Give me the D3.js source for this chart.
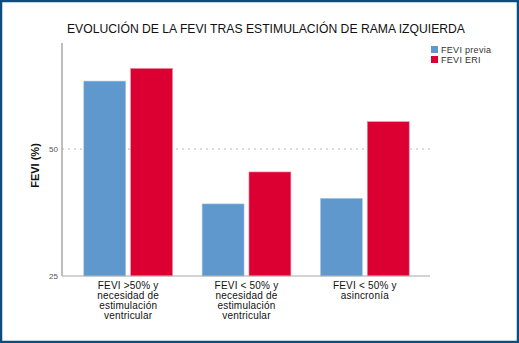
<!DOCTYPE html>
<html>
<head>
<meta charset="utf-8">
<script src="https://cdn.jsdelivr.net/npm/d3@7"></script>
<style>
  html, body { margin: 0; padding: 0; background: #fff; }
  svg { display: block; font-family: "Liberation Sans", Arial, sans-serif; }
</style>
</head>
<body>
<svg id="chart"></svg>
<script>
const categories = [
  ['FEVI >50% y', 'necesidad de', 'estimulación', 'ventricular'],
  ['FEVI  < 50% y', 'necesidad de', 'estimulación', 'ventricular'],
  ['FEVI < 50% y', 'asincronía']
];
const seriesNames = ['FEVI previa', 'FEVI ERI'];
const fevi_previa = [63.4, 39.2, 40.3];
const fevi_eri = [65.9, 45.5, 55.4];
const yTicks = [25, 50];

const COLORS = ['#5e98cd', '#dc0032'];

const width = 519, height = 343;
const svg = d3.select('#chart').attr('width', width).attr('height', height);

// blue frame
svg.append('rect')
  .attr('x', 1).attr('y', 1)
  .attr('width', width - 2).attr('height', height - 2)
  .attr('fill', '#fff')
  .attr('stroke', '#0d4d7d')
  .attr('stroke-width', 2.5);

const plot = { left: 62, right: 430, top: 43, bottom: 276 };

const y = d3.scaleLinear().domain([25, 70.9]).range([plot.bottom, plot.top]);
const x0 = d3.scaleBand()
  .domain(d3.range(categories.length))
  .range([69, 424])
  .paddingInner(0.25)
  .paddingOuter(0.125);
const x1 = d3.scaleBand()
  .domain(seriesNames)
  .range([0, x0.bandwidth()])
  .paddingInner(0.105);

const rows = categories.map((c, i) => ({ i, values: [fevi_previa[i], fevi_eri[i]] }));

// dotted gridline at 50
svg.append('g').selectAll('line')
  .data(yTicks.filter(t => t !== 25))
  .enter().append('line')
  .attr('x1', plot.left).attr('x2', plot.right)
  .attr('y1', d => y(d)).attr('y2', d => y(d))
  .attr('stroke', '#b8b8b8')
  .attr('stroke-dasharray', '2,4');

// bars
const groups = svg.append('g').selectAll('g')
  .data(rows)
  .enter().append('g')
  .attr('transform', d => `translate(${x0(d.i)},0)`);

groups.selectAll('rect')
  .data(d => d.values.map((v, k) => ({ v, k })))
  .enter().append('rect')
  .attr('x', d => x1(seriesNames[d.k]))
  .attr('width', x1.bandwidth())
  .attr('y', d => y(d.v))
  .attr('height', d => plot.bottom - y(d.v))
  .attr('fill', d => COLORS[d.k])
  .attr('stroke', d => d.k === 0 ? '#a9c8e6' : '#ef8fa5')
  .attr('stroke-width', 0.6);

// axes lines
svg.append('line')
  .attr('x1', plot.left).attr('x2', plot.left)
  .attr('y1', plot.top).attr('y2', plot.bottom)
  .attr('stroke', '#a8a8a8').attr('stroke-width', 1.5);
svg.append('line')
  .attr('x1', plot.left).attr('x2', plot.right)
  .attr('y1', plot.bottom).attr('y2', plot.bottom)
  .attr('stroke', '#a8a8a8').attr('stroke-width', 1.2);

// y tick labels
svg.append('g').selectAll('text')
  .data(yTicks)
  .enter().append('text')
  .attr('x', 58)
  .attr('y', d => y(d))
  .attr('dy', '0.35em')
  .attr('text-anchor', 'end')
  .style('font-size', '8px')
  .style('fill', '#555')
  .text(d => d);

// y axis title
svg.append('text')
  .attr('transform', `translate(39,${(plot.top + plot.bottom) / 2 + 6}) rotate(-90)`)
  .attr('text-anchor', 'middle')
  .style('font-size', '11px')
  .style('font-weight', 'bold')
  .style('fill', '#111')
  .text('FEVI (%)');

// category labels
const catLabels = svg.append('g').selectAll('text')
  .data(rows)
  .enter().append('text')
  .attr('x', d => x0(d.i) + x0.bandwidth() / 2)
  .attr('y', 289)
  .attr('text-anchor', 'middle')
  .style('font-size', '10px')
  .style('letter-spacing', '0.2px')
  .style('fill', '#111');
catLabels.selectAll('tspan')
  .data(d => categories[d.i])
  .enter().append('tspan')
  .attr('x', function () { return d3.select(this.parentNode).attr('x'); })
  .attr('dy', (d, k) => k === 0 ? 0 : 10)
  .text(d => d);

// title
svg.append('text')
  .attr('x', 266)
  .attr('y', 33)
  .attr('text-anchor', 'middle')
  .attr('textLength', 398)
  .attr('lengthAdjust', 'spacingAndGlyphs')
  .style('font-size', '13px')
  .style('fill', '#111')
  .text('EVOLUCIÓN DE LA FEVI TRAS ESTIMULACIÓN DE RAMA IZQUIERDA');

// legend
const legend = svg.append('g').attr('transform', 'translate(431,46)');
const items = legend.selectAll('g')
  .data(seriesNames)
  .enter().append('g')
  .attr('transform', (d, i) => `translate(0,${i * 10})`);
items.append('rect')
  .attr('width', 7).attr('height', 7)
  .attr('fill', (d, i) => COLORS[i]);
items.append('text')
  .attr('x', 10).attr('y', 3.5).attr('dy', '0.35em')
  .style('font-size', '9px')
  .style('letter-spacing', '0.3px')
  .style('fill', '#333')
  .text(d => d);
</script>
</body>
</html>
